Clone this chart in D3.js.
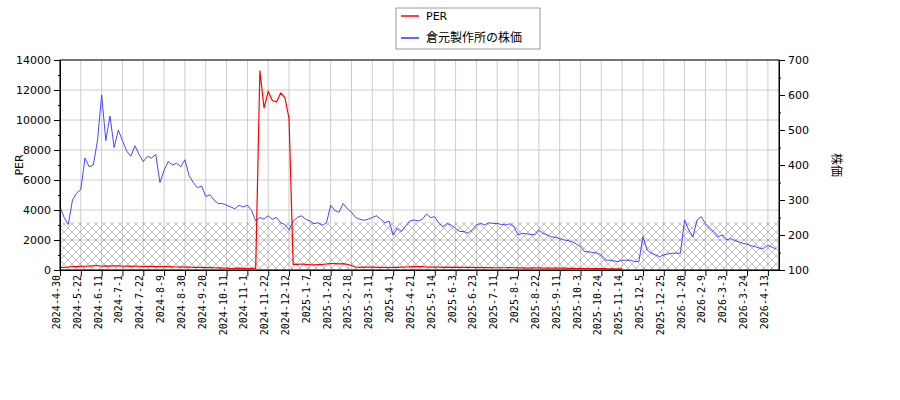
<!DOCTYPE html><html><head><meta charset="utf-8"><script src="https://cdn.jsdelivr.net/npm/d3@7"></script>
<style>body{margin:0;background:#fff}text{font-family:"DejaVu Sans",sans-serif}</style></head><body><svg id="c" width="900" height="400"></svg>
<script>
const tickLabels=["2024-4-30","2024-5-22","2024-6-11","2024-7-1","2024-7-22","2024-8-9","2024-8-30","2024-9-20","2024-10-11","2024-11-1","2024-11-22","2024-12-12","2025-1-7","2025-1-28","2025-2-18","2025-3-11","2025-4-1","2025-4-21","2025-5-14","2025-6-3","2025-6-23","2025-7-11","2025-8-1","2025-8-22","2025-9-11","2025-10-3","2025-10-24","2025-11-14","2025-12-5","2025-12-25","2026-1-20","2026-2-9","2026-3-3","2026-3-24","2026-4-13"];
const price=[280,250,230,300,320, 330,420,395,400,470, 600,470,540,450,500, 470,440,425,455,430, 410,425,420,430,350, 385,410,400,405,395, 415,370,350,335,340, 310,315,300,290,290, 285,280,275,285,280, 285,270,240,250,245, 255,245,250,235,230, 215,240,250,255,245, 240,232,235,228,235, 285,270,265,290,275, 265,250,245,242,245, 250,255,245,235,240, 200,220,210,225,240, 243,240,245,260,250, 252,233,224,233,228, 219,210,210,205,214, 229,233,229,235,233, 233,230,229,232,224, 200,205,203,202,200, 214,205,200,195,193, 190,186,184,181,174, 167,152,152,150,148, 143,128,128,126,124, 128,128,128,124,124, 195,157,148,143,138, 143,146,148,148,148, 243,214,195,243,252, 233,219,210,195,200, 186,190,184,181,176, 174,169,167,162,162, 171,165,160];
const per=[150,180,200,220,230, 240,250,260,280,300,250,270,260,280,270, 250,260,240,260,250,230,250,240,220,230, 230,220,210,200,210,190,200,180,170,180, 160,170,150,140,120,130,100,110,120,110,100,110,110,
13300,10800,11900,11300,11200,11800,11500,10100,
380,370,400,380,350,340,360,370,400,420, 430,410,420,380,300,200,180,190,200,190, 180,170,170,160,170,180,190,200,210,220, 220,230,200,190,200,190,180,190,180,190, 180,180,170,170,160,170,160,160,150,150, 150,150,160,150,140,140,130,130,140,140, 130,130,120,120,130,120,110,110,100,110, 100,100,90,90,100,90,80,80,80,80];
const step=3, tickEvery=15;
const svg=d3.select("#c");
const L=60,R=779,T=60,B=270;
const x=d3.scaleLinear().domain([0,518]).range([L,R]);
const yL=d3.scaleLinear().domain([0,14000]).range([B,T]);
const yR=d3.scaleLinear().domain([100,700]).range([B,T]);
const defs=svg.append("defs");
const pat=defs.append("pattern").attr("id","h").attr("patternUnits","userSpaceOnUse").attr("width",8).attr("height",8);
pat.append("path").attr("d","M0,0L8,8M8,0L0,8").attr("stroke","#999").attr("stroke-width",0.6);
const ticks=tickLabels.map((t,i)=>i*tickEvery);
svg.append("g").selectAll("line").data(ticks).join("line").attr("x1",d=>x(d)).attr("x2",d=>x(d)).attr("y1",T).attr("y2",B).attr("stroke","#ccc");
svg.append("g").selectAll("line").data(d3.range(0,14001,2000)).join("line").attr("x1",L).attr("x2",R).attr("y1",d=>yL(d)).attr("y2",d=>yL(d)).attr("stroke","#ccc");
svg.append("rect").attr("x",L).attr("y",yL(3200)).attr("width",R-L).attr("height",B-yL(3200)).attr("fill","url(#h)");
svg.append("path").datum(price).attr("fill","none").attr("stroke","#3333ff").attr("stroke-width",0.9)
 .attr("d",d3.line().x((d,i)=>x(i*step)).y(d=>yR(d)));
svg.append("path").datum(per).attr("fill","none").attr("stroke","#ff0000").attr("stroke-width",1.2)
 .attr("d",d3.line().x((d,i)=>x(i*step)).y(d=>yL(d)));
svg.append("rect").attr("x",L).attr("y",T).attr("width",R-L).attr("height",B-T).attr("fill","none").attr("stroke","#000");
const ax=svg.append("g").attr("transform",`translate(0,${B})`).call(d3.axisBottom(x).tickValues(ticks).tickFormat((d,i)=>tickLabels[i]).tickSizeOuter(0));
ax.selectAll("text").attr("transform","rotate(-90)").attr("text-anchor","end").attr("x",-5).attr("y",-4).attr("dy","0.35em").style("font-size","10px").style("font-family","DejaVu Sans Mono");
svg.append("g").attr("transform",`translate(${L},0)`).call(d3.axisLeft(yL).tickValues(d3.range(0,14001,2000)).tickFormat(d3.format("d")).tickSizeOuter(0)).selectAll("text").style("font-size","11px");
svg.append("g").attr("transform",`translate(${L},0)`).call(d3.axisLeft(yL).tickValues(d3.range(1000,14000,2000)).tickSize(2).tickFormat("")).select(".domain").remove();
svg.append("g").attr("transform",`translate(${R},0)`).call(d3.axisRight(yR).tickValues(d3.range(100,701,100)).tickSizeOuter(0)).selectAll("text").style("font-size","11px");
svg.append("g").attr("transform",`translate(${R},0)`).call(d3.axisRight(yR).tickValues(d3.range(150,700,100)).tickSize(2).tickFormat("")).select(".domain").remove();
svg.selectAll(".domain").attr("stroke","#000");
svg.append("text").attr("transform","translate(23,165) rotate(-90)").attr("text-anchor","middle").style("font-size","11px").text("PER");
svg.append("text").attr("transform","translate(832,165) rotate(90)").attr("text-anchor","middle").style("font-size","12px").style("font-family","Noto Sans CJK JP").text("株価");
const lg=svg.append("g");
lg.append("rect").attr("x",396).attr("y",8).attr("width",144).attr("height",41).attr("fill","#fff").attr("stroke","#999");
lg.append("line").attr("x1",401).attr("x2",419).attr("y1",16).attr("y2",16).attr("stroke","#ff0000").attr("stroke-width",1.5);
lg.append("line").attr("x1",401).attr("x2",419).attr("y1",38).attr("y2",38).attr("stroke","#3333ff").attr("stroke-width",1.5);
lg.append("text").attr("x",426).attr("y",20).style("font-size","11px").text("PER");
lg.append("text").attr("x",426).attr("y",42).style("font-size","12px").style("font-family","Noto Sans CJK JP").text("倉元製作所の株価");
</script></body></html>
